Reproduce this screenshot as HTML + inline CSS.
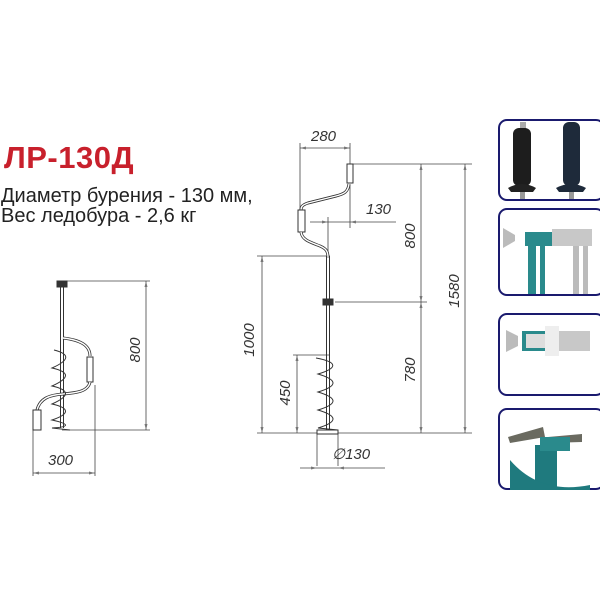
<!DOCTYPE html>
<html><head><meta charset="utf-8"><style>
html,body{margin:0;padding:0;background:#fff;}
body{width:600px;height:600px;overflow:hidden;position:relative;font-family:"Liberation Sans",sans-serif;}
.t{position:absolute;left:4px;top:140px;font-size:31px;font-weight:bold;color:#c8202c;letter-spacing:0.5px;}
.d{position:absolute;left:1px;font-size:20px;color:#222;line-height:20px;}
</style></head><body>
<div class="t">ЛР-130Д</div>
<div class="d" style="top:186px">Диаметр бурения - 130 мм,</div>
<div class="d" style="top:206px">Вес ледобура - 2,6 кг</div>
<svg width="600" height="600" style="position:absolute;left:0;top:0" font-family="Liberation Sans" font-style="italic" font-size="15" fill="none">
<g stroke="#444" stroke-width="0.8">
<line x1="300" y1="143" x2="300" y2="212"/><line x1="350" y1="143" x2="350" y2="165"/>
<line x1="300" y1="148" x2="350" y2="148"/>
<line x1="353" y1="164" x2="472" y2="164"/>
<line x1="350" y1="185" x2="350" y2="228"/>
<line x1="310" y1="222" x2="396" y2="222"/>
<line x1="328" y1="217" x2="328" y2="256"/>
<line x1="257" y1="256" x2="330" y2="256"/>
<line x1="262" y1="256" x2="262" y2="433"/>
<line x1="335" y1="302" x2="427" y2="302"/>
<line x1="421" y1="164" x2="421" y2="433"/>
<line x1="465" y1="164" x2="465" y2="433"/>
<line x1="293" y1="355" x2="330" y2="355"/>
<line x1="297" y1="355" x2="297" y2="433"/>
<line x1="257" y1="433" x2="472" y2="433"/>
<line x1="317" y1="433" x2="317" y2="466"/><line x1="338" y1="433" x2="338" y2="466"/>
<line x1="300" y1="468" x2="385" y2="468"/>
<line x1="65" y1="281" x2="150" y2="281"/>
<line x1="146" y1="281" x2="146" y2="430"/>
<line x1="62" y1="430" x2="150" y2="430"/>
<line x1="33" y1="430" x2="33" y2="476"/><line x1="95" y1="385" x2="95" y2="476"/>
<line x1="33" y1="473" x2="95" y2="473"/>
</g>
<g fill="#777">
<path d="M300 148l6-1.5v3z M350 148l-6-1.5v3z"/>
<path d="M328 222l-6-1.5v3z M350 222l6-1.5v3z"/>
<path d="M262 256l-1.5 6h3z M262 433l-1.5-6h3z"/>
<path d="M421 164l-1.5 6h3z M421 302l-1.5-6h3z M421 302l-1.5 6h3z M421 433l-1.5-6h3z"/>
<path d="M465 164l-1.5 6h3z M465 433l-1.5-6h3z"/>
<path d="M297 355l-1.5 6h3z M297 433l-1.5-6h3z"/>
<path d="M317 468l-6-1.5v3z M338 468l6-1.5v3z"/>
<path d="M146 281l-1.5 6h3z M146 430l-1.5-6h3z"/>
<path d="M33 473l6-1.5v3z M95 473l-6-1.5v3z"/>
</g>
<g stroke="#333" stroke-width="1">
<rect x="347" y="164" width="6" height="19" fill="#fff"/>
<path d="M349 184 C348 192 344 194 336 196 L308 203 C302 205 301 207 301 210" stroke-width="3"/>
<path d="M349 184 C348 192 344 194 336 196 L308 203 C302 205 301 207 301 210" stroke="#fff" stroke-width="1.4"/>
<rect x="298" y="210" width="7" height="22" fill="#fff"/>
<path d="M301 232 C302 240 310 242 320 246 C327 249 328 252 328 258" stroke-width="3"/>
<path d="M301 232 C302 240 310 242 320 246 C327 249 328 252 328 258" stroke="#fff" stroke-width="1.4"/>
<line x1="326.5" y1="256" x2="326.5" y2="433"/><line x1="329.5" y1="256" x2="329.5" y2="433"/>
<rect x="323" y="299" width="10" height="6" fill="#333"/>
<path d="M316 358 C338 362 338 368 318 374 C338 380 338 386 318 392 C338 398 338 404 318 410 C338 416 338 422 318 428 L338 430"/>
<rect x="317" y="430" width="21" height="4" fill="#fff"/>
</g>
<g stroke="#333" stroke-width="1">
<rect x="57" y="281" width="10" height="6" fill="#333"/>
<line x1="60.5" y1="284" x2="60.5" y2="428"/><line x1="63.5" y1="284" x2="63.5" y2="428"/>
<path d="M63 338 C80 340 90 345 90 356" stroke-width="3"/>
<path d="M63 338 C80 340 90 345 90 356" stroke="#fff" stroke-width="1.4"/>
<rect x="87" y="357" width="6" height="25" fill="#fff"/>
<path d="M90 382 C88 392 75 393 63 394 C50 395 40 398 37 410" stroke-width="3"/>
<path d="M90 382 C88 392 75 393 63 394 C50 395 40 398 37 410" stroke="#fff" stroke-width="1.4"/>
<rect x="33" y="410" width="8" height="20" fill="#fff"/>
<path d="M54 350 C70 354 70 360 52 368 C70 372 70 378 52 386 C70 390 70 396 52 404 C70 408 70 414 52 420 C70 424 70 427 52 428 L70 430"/>
</g>
<g fill="#333" stroke="none">
<text x="311" y="141">280</text>
<text x="366" y="214">130</text>
<text x="332" y="459">∅130</text>
<text x="48" y="465">300</text>
<text transform="translate(415,236) rotate(-90)" text-anchor="middle">800</text>
<text transform="translate(415,370) rotate(-90)" text-anchor="middle">780</text>
<text transform="translate(459,291) rotate(-90)" text-anchor="middle">1580</text>
<text transform="translate(254,340) rotate(-90)" text-anchor="middle">1000</text>
<text transform="translate(290,393) rotate(-90)" text-anchor="middle">450</text>
<text transform="translate(140,350) rotate(-90)" text-anchor="middle">800</text>
</g>
<g stroke="#1a1a6e" stroke-width="2" fill="#fff">
<rect x="499" y="120" width="105" height="80" rx="8"/>
<rect x="499" y="209" width="105" height="86" rx="8"/>
<rect x="499" y="314" width="105" height="81" rx="8"/>
<rect x="499" y="409" width="105" height="80" rx="8"/>
</g>
<g stroke="none">
<rect x="520" y="122" width="6" height="10" fill="#aaa"/><rect x="513" y="128" width="18" height="58" rx="6" fill="#1d1d1d"/>
<path d="M508 188 q14-8 28 0 l-3 4 h-22z" fill="#222"/><rect x="520" y="192" width="5" height="7" fill="#999"/>
<rect x="563" y="122" width="17" height="64" rx="6" fill="#1e2a3a"/>
<path d="M556 188 q15-8 30 0 l-3 4 h-24z" fill="#1e2a3a"/><rect x="569" y="192" width="5" height="7" fill="#999"/>
<rect x="525" y="232" width="33" height="14" fill="#2a8a8c"/><rect x="552" y="229" width="40" height="17" fill="#c8c8c8"/>
<rect x="528" y="246" width="8" height="48" fill="#2a8a8c"/><rect x="540" y="246" width="5" height="48" fill="#2a8a8c"/>
<rect x="573" y="246" width="6" height="48" fill="#bbb"/><rect x="583" y="246" width="5" height="48" fill="#bbb"/>
<path d="M503 228 l12 7 v6 l-12 7z" fill="#bbb"/>
<rect x="522" y="331" width="35" height="20" fill="#2a8a8c"/><rect x="526" y="334" width="28" height="14" fill="#ddd"/>
<rect x="554" y="331" width="36" height="20" fill="#c8c8c8"/><rect x="545" y="326" width="14" height="30" fill="#eee"/>
<path d="M506 330 l12 6 v10 l-12 6z" fill="#bbb"/>
<rect x="535" y="445" width="22" height="43" fill="#1f7a7e"/><path d="M510 460 q30 35 80 25 l0 5 h-80z" fill="#1f7a7e"/>
<path d="M508 437 l35 -10 l2 10 l-35 6z" fill="#6a6a60"/><path d="M548 437 l34 -3 l0 8 l-34 1z" fill="#6a6a60"/>
<rect x="540" y="437" width="30" height="14" fill="#2a8a8c"/>
</g>
</svg>
</body></html>
